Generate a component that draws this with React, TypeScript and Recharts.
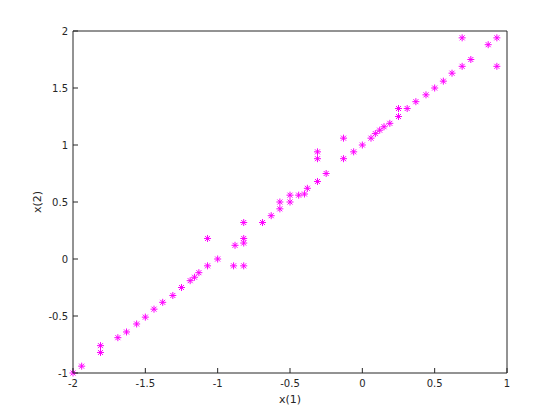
import React from 'react';
import { ScatterChart, Scatter, XAxis, YAxis } from 'recharts';

// x(1) and x(2) values
const x1Values: number[] = [
  -2, -1.94, -1.81, -1.81, -1.69, -1.63, -1.56, -1.5, -1.44, -1.38,
  -1.31, -1.25, -1.19, -1.16, -1.13, -1.07, -1.07, -1.0, -0.89, -0.88,
  -0.82, -0.82, -0.82, -0.82, -0.69, -0.63, -0.57, -0.57, -0.5, -0.5,
  -0.44, -0.4, -0.38, -0.31, -0.31, -0.31, -0.25, -0.13, -0.13, -0.06,
  0, 0.06, 0.09, 0.12, 0.15, 0.19, 0.25, 0.25, 0.31, 0.37,
  0.44, 0.5, 0.56, 0.62, 0.69, 0.69, 0.75, 0.87, 0.93, 0.93
];
const x2Values: number[] = [
  -1, -0.94, -0.76, -0.82, -0.69, -0.64, -0.57, -0.51, -0.44, -0.38,
  -0.32, -0.25, -0.19, -0.16, -0.12, -0.06, 0.18, 0, -0.06, 0.12,
  -0.06, 0.32, 0.18, 0.14, 0.32, 0.38, 0.5, 0.44, 0.56, 0.5,
  0.56, 0.57, 0.62, 0.68, 0.94, 0.88, 0.75, 0.88, 1.06, 0.94,
  1.0, 1.06, 1.1, 1.13, 1.16, 1.19, 1.32, 1.25, 1.32, 1.38,
  1.44, 1.5, 1.56, 1.63, 1.69, 1.94, 1.75, 1.88, 1.94, 1.69
];
const xTicks: number[] = [-2, -1.5, -1, -0.5, 0, 0.5, 1];
const yTicks: number[] = [-1, -0.5, 0, 0.5, 1, 1.5, 2];

const points = x1Values.map((v, i) => ({ x: v, y: x2Values[i] }));

const AXIS = '#262626';
const FONT = '"DejaVu Sans", sans-serif';

const BottomTick = (props: any) => {
  const { x, y, payload } = props;
  return (
    <g>
      <line x1={x} x2={x} y1={y} y2={y - 5} stroke={AXIS} />
      <text x={x} y={y + 14} textAnchor="middle" fontSize={10} fill={AXIS} fontFamily={FONT}>
        {payload.value}
      </text>
    </g>
  );
};

const TopTick = (props: any) => {
  const { x, y } = props;
  return <line x1={x} x2={x} y1={y} y2={y + 5} stroke={AXIS} />;
};

const LeftTick = (props: any) => {
  const { x, y, payload } = props;
  return (
    <g>
      <line x1={x} x2={x + 5} y1={y} y2={y} stroke={AXIS} />
      <text x={x - 5} y={y + 4} textAnchor="end" fontSize={10} fill={AXIS} fontFamily={FONT}>
        {payload.value}
      </text>
    </g>
  );
};

const RightTick = (props: any) => {
  const { x, y } = props;
  return <line x1={x} x2={x - 5} y1={y} y2={y} stroke={AXIS} />;
};

// asterisk marker like the '*' plot style
const Asterisk = (props: any) => {
  const { cx, cy } = props;
  const r = 3.5;
  const d = 2.5;
  return (
    <g stroke="#ff00ff" strokeWidth={1}>
      <line x1={cx - r} x2={cx + r} y1={cy} y2={cy} />
      <line x1={cx} x2={cx} y1={cy - r} y2={cy + r} />
      <line x1={cx - d} x2={cx + d} y1={cy - d} y2={cy + d} />
      <line x1={cx - d} x2={cx + d} y1={cy + d} y2={cy - d} />
    </g>
  );
};

export default function App() {
  return (
    <div style={{ position: 'absolute', left: 0, top: 0, width: 560, height: 420, background: '#fff' }}>
      <ScatterChart width={560} height={420} margin={{ top: 30, right: 52, bottom: 46, left: 72 }}>
        <XAxis
          xAxisId="b"
          type="number"
          dataKey="x"
          domain={[-2, 1]}
          ticks={xTicks}
          height={1}
          tickLine={false}
          tickSize={0}
          tickMargin={0}
          stroke={AXIS}
          tick={<BottomTick />}
          interval={0}
        />
        <XAxis
          xAxisId="t"
          orientation="top"
          type="number"
          dataKey="x"
          domain={[-2, 1]}
          ticks={xTicks}
          height={1}
          tickLine={false}
          tickSize={0}
          tickMargin={0}
          stroke={AXIS}
          tick={<TopTick />}
          interval={0}
        />
        <YAxis
          yAxisId="l"
          type="number"
          dataKey="y"
          domain={[-1, 2]}
          ticks={yTicks}
          width={1}
          tickLine={false}
          tickSize={0}
          tickMargin={0}
          stroke={AXIS}
          tick={<LeftTick />}
          interval={0}
        />
        <YAxis
          yAxisId="r"
          orientation="right"
          type="number"
          dataKey="y"
          domain={[-1, 2]}
          ticks={yTicks}
          width={1}
          tickLine={false}
          tickSize={0}
          tickMargin={0}
          stroke={AXIS}
          tick={<RightTick />}
          interval={0}
        />
        <Scatter
          data={points}
          xAxisId="b"
          yAxisId="l"
          shape={<Asterisk />}
          isAnimationActive={false}
        />
        <text x={290} y={403} textAnchor="middle" fontSize={11} fill={AXIS} fontFamily={FONT}>
          x(1)
        </text>
        <text
          x={41}
          y={202}
          textAnchor="middle"
          fontSize={11}
          fill={AXIS}
          fontFamily={FONT}
          transform="rotate(-90 41 202)"
        >
          x(2)
        </text>
      </ScatterChart>
    </div>
  );
}
